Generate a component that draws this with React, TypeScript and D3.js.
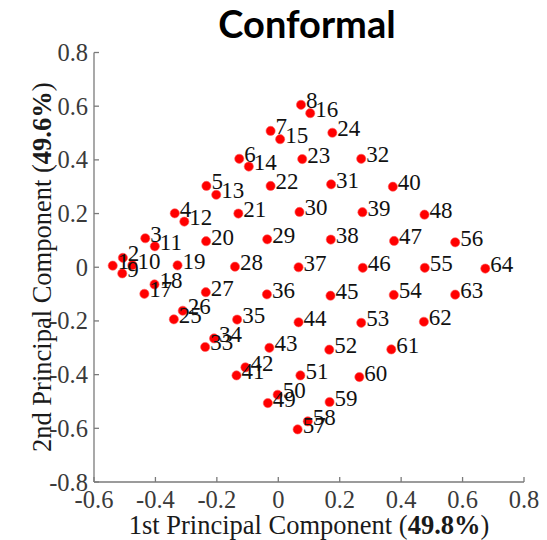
import React from "react";
import * as d3 from "d3";

const titleText = "Conformal";
const xTicks = [-0.6, -0.4, -0.2, 0, 0.2, 0.4, 0.6, 0.8];
const yTicks = [-0.8, -0.6, -0.4, -0.2, 0, 0.2, 0.4, 0.6, 0.8];
const xLabelParts = ["1st Principal Component (", "49.8%", ")"];
const yLabelParts = ["2nd Principal Component (", "49.6%", ")"];

// 1st principal component (x) for points 1..64
const pcX = [
  -0.539, -0.506, -0.433, -0.337, -0.234, -0.127, -0.025, 0.074,
  -0.508, -0.475, -0.402, -0.306, -0.202, -0.096, 0.006, 0.104,
  -0.436, -0.403, -0.328, -0.235, -0.130, -0.025, 0.078, 0.176,
  -0.340, -0.311, -0.236, -0.141, -0.036, 0.069, 0.172, 0.270,
  -0.238, -0.209, -0.134, -0.037, 0.066, 0.171, 0.274, 0.373,
  -0.136, -0.107, -0.029, 0.066, 0.170, 0.275, 0.377, 0.476,
  -0.034, -0.002, 0.072, 0.166, 0.270, 0.376, 0.477, 0.576,
  0.063, 0.096, 0.167, 0.264, 0.368, 0.474, 0.576, 0.674,
];
// 2nd principal component (y) for points 1..64
const pcY = [
  0.006, 0.035, 0.108, 0.201, 0.303, 0.404, 0.508, 0.605,
  -0.023, 0.008, 0.078, 0.170, 0.270, 0.375, 0.477, 0.574,
  -0.099, -0.064, 0.007, 0.097, 0.200, 0.303, 0.403, 0.501,
  -0.194, -0.162, -0.093, 0.002, 0.104, 0.206, 0.309, 0.404,
  -0.297, -0.265, -0.195, -0.101, 0.000, 0.103, 0.205, 0.300,
  -0.403, -0.373, -0.300, -0.205, -0.106, -0.002, 0.098, 0.196,
  -0.506, -0.475, -0.403, -0.307, -0.207, -0.103, -0.002, 0.093,
  -0.604, -0.574, -0.502, -0.409, -0.306, -0.203, -0.102, -0.005,
];

const W = 547;
const H = 540;
const serif = "'Liberation Serif', 'Times New Roman', serif";

export default function App() {
  const x = d3.scaleLinear().domain([-0.6, 0.8]).range([94, 524]);
  const y = d3.scaleLinear().domain([-0.8, 0.8]).range([482, 52.5]);
  const axisColor = "#7a7a7a";
  const tickColor = "#3a3a3a";
  const points = pcX.map((v, i) => ({ id: i + 1, x: v, y: pcY[i] }));
  const [x0, x1] = x.range();
  const [y0, y1] = y.range();

  return (
    <svg
      width={W}
      height={H}
      style={{ position: "absolute", left: 0, top: 0, background: "#fff" }}
    >
      <rect x={0} y={0} width={W} height={H} fill="#fff" />
      <text
        x={307}
        y={38}
        textAnchor="middle"
        fontFamily="Lato, 'Open Sans', sans-serif"
        fontWeight="bold"
        fontSize={38}
        fill="#000"
      >
        {titleText}
      </text>

      {/* axes */}
      <g stroke={axisColor} strokeWidth={1.3} fill="none">
        <line x1={x0} y1={y0} x2={x1} y2={y0} />
        <line x1={x0} y1={y0} x2={x0} y2={y1} />
        {xTicks.map((t) => (
          <line key={"xt" + t} x1={x(t)} x2={x(t)} y1={y0} y2={y0 - 5} />
        ))}
        {yTicks.map((t) => (
          <line key={"yt" + t} x1={x0} x2={x0 + 5} y1={y(t)} y2={y(t)} />
        ))}
      </g>

      {/* tick labels */}
      <g fontFamily={serif} fontSize={24.5} fill={tickColor}>
        {xTicks.map((t) => (
          <text key={"xl" + t} x={x(t)} y={y0 + 26} textAnchor="middle">
            {String(t)}
          </text>
        ))}
        {yTicks.map((t) => (
          <text key={"yl" + t} x={x0 - 6} y={y(t) + 8.5} textAnchor="end">
            {String(t)}
          </text>
        ))}
      </g>

      {/* axis labels */}
      <text
        x={(x0 + x1) / 2}
        y={534}
        textAnchor="middle"
        fontFamily={serif}
        fontSize={26.5}
        fill="#1a1a1a"
      >
        {xLabelParts[0]}
        <tspan fontWeight="bold">{xLabelParts[1]}</tspan>
        {xLabelParts[2]}
      </text>
      <text
        transform={`translate(51, ${(y0 + y1) / 2}) rotate(-90)`}
        textAnchor="middle"
        fontFamily={serif}
        fontSize={26.5}
        fill="#1a1a1a"
      >
        {yLabelParts[0]}
        <tspan fontWeight="bold">{yLabelParts[1]}</tspan>
        {yLabelParts[2]}
      </text>

      {/* points */}
      <g>
        {points.map((p) => (
          <circle
            key={"c" + p.id}
            cx={x(p.x)}
            cy={y(p.y)}
            r={4.6}
            fill="#ff0000"
            stroke="#ff5a5a"
            strokeWidth={0.6}
          />
        ))}
      </g>
      <g fontFamily={serif} fontSize={23} fill="#111">
        {points.map((p) => (
          <text key={"t" + p.id} x={x(p.x) + 5} y={y(p.y) + 3.5}>
            {String(p.id)}
          </text>
        ))}
      </g>
    </svg>
  );
}
